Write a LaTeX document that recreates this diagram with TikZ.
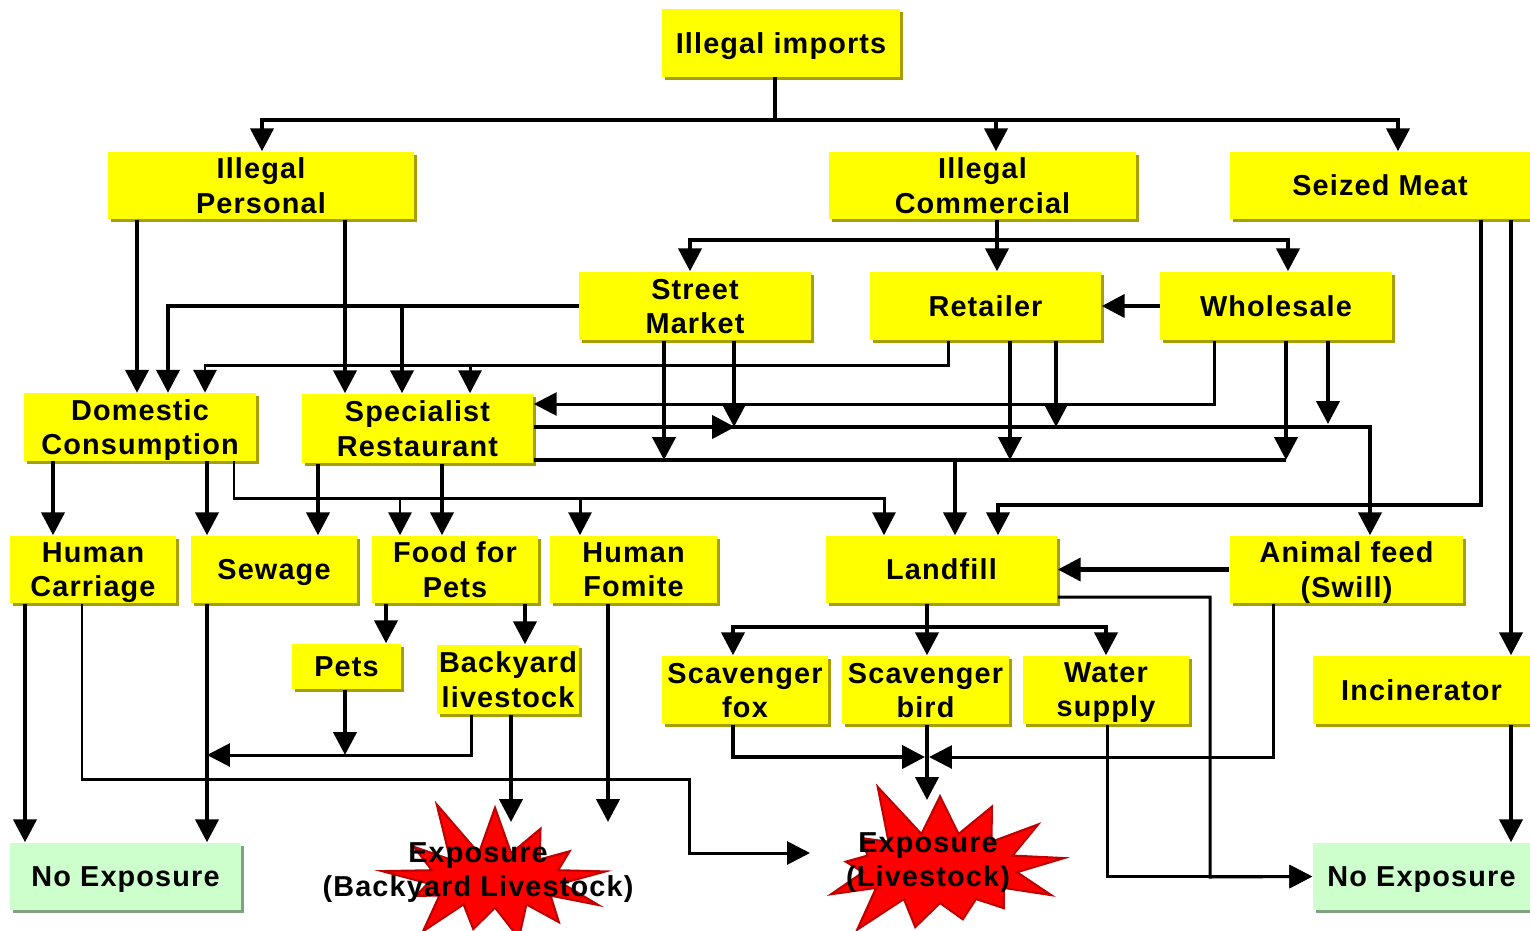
\documentclass[tikz,border=0pt]{standalone}
\usepackage{fontspec}
\setmainfont[LetterSpace=4]{Liberation Sans}
\usetikzlibrary{arrows.meta,shapes.symbols,shadows}

\definecolor{boxyellow}{RGB}{255,255,0}
\definecolor{boxshade}{RGB}{165,160,0}
\definecolor{noexgreen}{RGB}{204,255,204}
\definecolor{noexshade}{RGB}{130,160,130}

\begin{document}
\begin{tikzpicture}[x=0.01cm,y=-0.01cm,
    box/.style={rectangle, fill=boxyellow, align=center, inner sep=0pt, text depth=0pt,
        minimum height=0.67cm, font=\fontsize{8.2}{9.7}\selectfont\bfseries,
        drop shadow={shadow xshift=0.03cm, shadow yshift=-0.03cm, fill=boxshade, opacity=1}},
    wbox/.style={box, minimum width=2.31cm},
    sbox/.style={box, minimum width=1.66cm},
    noex/.style={box, fill=noexgreen, minimum width=2.31cm,
        drop shadow={shadow xshift=0.03cm, shadow yshift=-0.03cm, fill=noexshade, opacity=1}},
    burst/.style={starburst, starburst points=13, starburst point height=0.6cm,
        random starburst=11, fill=red, draw=red!75!black, line width=0.6pt,
        minimum width=2.55cm, minimum height=1.75cm, inner sep=0pt},
    bursttext/.style={align=center, text depth=0pt, font=\fontsize{8.2}{9.7}\selectfont\bfseries},
    link/.style={line width=1.2pt},
    thinlink/.style={line width=0.85pt},
    arr/.style={link, -{Triangle[length=6.5pt,width=6.5pt]}},
    tarr/.style={thinlink, -{Triangle[length=6.5pt,width=6.5pt]}}]

    \useasboundingbox (0,0) rectangle (1530,930);

    % sources
    \node[box, minimum width=2.38cm] (imp) at (781,43) {Illegal imports};
    \node[box, minimum width=3.06cm] (ipers) at (261,185.5) {Illegal\\Personal};
    \node[box, minimum width=3.07cm] (icomm) at (982.5,185.5) {Illegal\\Commercial};
    \node[box, minimum width=3.00cm] (seized) at (1380,185.5) {Seized Meat};

    \node[wbox, minimum height=0.68cm] (street) at (695,306) {Street\\Market};
    \node[wbox, minimum height=0.68cm] (retail) at (985.5,306) {Retailer};
    \node[wbox, minimum height=0.68cm] (whole) at (1276,306) {Wholesale};

    \node[wbox] (dom) at (140,427) {Domestic\\Consumption};
    \node[wbox, minimum height=0.69cm] (spec) at (417.5,428.5) {Specialist\\Restaurant};

    % routes
    \node[sbox] (hcar) at (93,569.5) {Human\\Carriage};
    \node[sbox] (sew) at (274,569.5) {Sewage};
    \node[sbox] (ffp) at (455,569.5) {Food for\\Pets};
    \node[sbox] (hfom) at (633.5,569.5) {Human\\Fomite};
    \node[wbox] (land) at (941.5,569.5) {Landfill};
    \node[wbox, minimum width=2.33cm] (swill) at (1346.5,569.5) {Animal feed\\(Swill)};

    \node[box, minimum width=1.09cm, minimum height=0.45cm] (pets) at (346.5,666.5) {Pets};
    \node[box, minimum width=1.42cm, minimum height=0.69cm] (byl) at (508,679.5) {Backyard\\livestock};
    \node[sbox, minimum height=0.68cm] (sfox) at (745,690) {Scavenger\\fox};
    \node[sbox, minimum height=0.68cm] (sbird) at (925.5,690) {Scavenger\\bird};
    \node[sbox, minimum height=0.68cm] (water) at (1106,690) {Water\\supply};
    \node[box, minimum width=2.17cm, minimum height=0.68cm] (incin) at (1421.5,690) {Incinerator};

    % outcomes
    \node[noex] (noexl) at (125.5,876.5) {No Exposure};
    \node[noex, minimum width=2.17cm] (noexr) at (1421.5,876.5) {No Exposure};
    \node[burst, label={[bursttext, xshift=-0.17cm, yshift=0.1cm]center:Exposure\\(Backyard Livestock)}] (expb) at (495,880) {};
    \node[burst, random starburst=5, minimum width=2.75cm, minimum height=1.9cm,
        label={[bursttext, xshift=-0.12cm, yshift=0.08cm]center:Exposure\\(Livestock)}] (expl) at (940,868) {};

    % illegal imports
    \draw[arr] (imp.south -| 775,0) -- (775,120) -| (ipers.north -| 262,0);
    \draw[arr] (imp.south -| 775,0) -- (775,120) -| (icomm.north -| 996,0);
    \draw[arr] (imp.south -| 775,0) -- (775,120) -| (seized.north -| 1398,0);

    \draw[arr] (ipers.south -| 137,0) -- (dom.north -| 137,0);
    \draw[arr] (ipers.south -| 345,0) -- (spec.north -| 345,0);

    \draw[arr] (icomm.south -| 997,0) -- (997,240) -| (street.north -| 690,0);
    \draw[arr] (icomm.south -| 997,0) -- (retail.north -| 997,0);
    \draw[arr] (icomm.south -| 997,0) -- (997,240) -| (whole.north -| 1288,0);

    % street market
    \draw[arr] (street.west) -| (dom.north -| 168,0);
    \draw[arr] (street.west) -| (spec.north -| 402,0);
    \draw[arr] (street.south -| 664,0) -- (664,460);
    \draw[arr] (street.south -| 734,0) -- (734,427);

    % retailer
    \draw[tarr] (retail.south -| 948,0) -- (948,365) -| (dom.north -| 205,0);
    \draw[tarr] (retail.south -| 948,0) -- (948,365) -| (spec.north -| 470,0);
    \draw[arr] (retail.south -| 1010,0) -- (1010,460);
    \draw[arr] (retail.south -| 1056,0) -- (1056,427);

    % wholesale
    \draw[arr] (whole.west) -- (retail.east);
    \draw[tarr] (whole.south -| 1214,0) |- (spec.east |- 0,404);
    \draw[arr] (whole.south -| 1286,0) -- (1286,460);
    \draw[arr] (whole.south -| 1328,0) -- (1328,424);

    % specialist restaurant
    \draw[arr] (spec.east |- 0,427) -- (735,427);
    \draw[arr] (spec.east |- 0,427) -| (swill.north -| 1370,0);
    \draw[link] (spec.east |- 0,460) -- (1286,460);
    \draw[arr] (spec.east |- 0,460) -- (955,460) -- (land.north -| 955,0);
    \draw[arr] (spec.south -| 318,0) -- (sew.north -| 318,0);
    \draw[arr] (spec.south -| 442,0) -- (ffp.north -| 442,0);

    % seized meat
    \draw[arr] (seized.south -| 1481,0) |- (998,505) -- (land.north -| 998,0);
    \draw[arr] (seized.south -| 1511,0) -- (incin.north -| 1511,0);

    % domestic consumption
    \draw[arr] (dom.south -| 53,0) -- (hcar.north -| 53,0);
    \draw[arr] (dom.south -| 207,0) -- (sew.north -| 207,0);
    \draw[tarr] (dom.south -| 234,0) |- (884,498) -- (land.north -| 884,0);
    \draw[tarr] (dom.south -| 234,0) |- (400,498) -- (ffp.north -| 400,0);
    \draw[tarr] (dom.south -| 234,0) |- (580,498) -- (hfom.north -| 580,0);

    % pets and livestock
    \draw[arr] (ffp.south -| 386,0) -- (pets.north -| 386,0);
    \draw[arr] (ffp.south -| 525,0) -- (byl.north -| 525,0);
    \draw[arr] (pets.south -| 345,0) -- (345,755);
    \draw[tarr] (byl.south -| 471,0) |- (207,755);
    \draw[arr] (byl.south -| 511,0) -- (511,822);
    \draw[arr] (hfom.south -| 608,0) -- (608,822);

    % human carriage and sewage
    \draw[arr] (hcar.south -| 25,0) -- (noexl.north -| 25,0);
    \draw[tarr] (hcar.south -| 82,0) |- (689,779) |- (810,853);
    \draw[arr] (sew.south -| 207,0) -- (noexl.north -| 207,0);

    % landfill
    \draw[arr] (land.south -| 927,0) -- (927,627) -| (sfox.north -| 733,0);
    \draw[arr] (land.south -| 927,0) -- (sbird.north -| 927,0);
    \draw[arr] (land.south -| 927,0) -- (927,627) -| (water.north -| 1106,0);
    \draw[arr] (swill.west) -- (land.east);
    \draw[tarr] (land.east |- 0,597) -| (1210,877) -- (noexr.west);
    \draw[tarr] (water.south -| 1107,0) |- (noexr.west);

    % scavengers
    \draw[arr] (sfox.south -| 733,0) |- (925,757);
    \draw[tarr] (swill.south -| 1273,0) |- (929,757);
    \draw[arr] (sbird.south -| 927,0) -- (927,800);

    \draw[arr] (incin.south -| 1511,0) -- (noexr.north -| 1511,0);
\end{tikzpicture}
\end{document}
